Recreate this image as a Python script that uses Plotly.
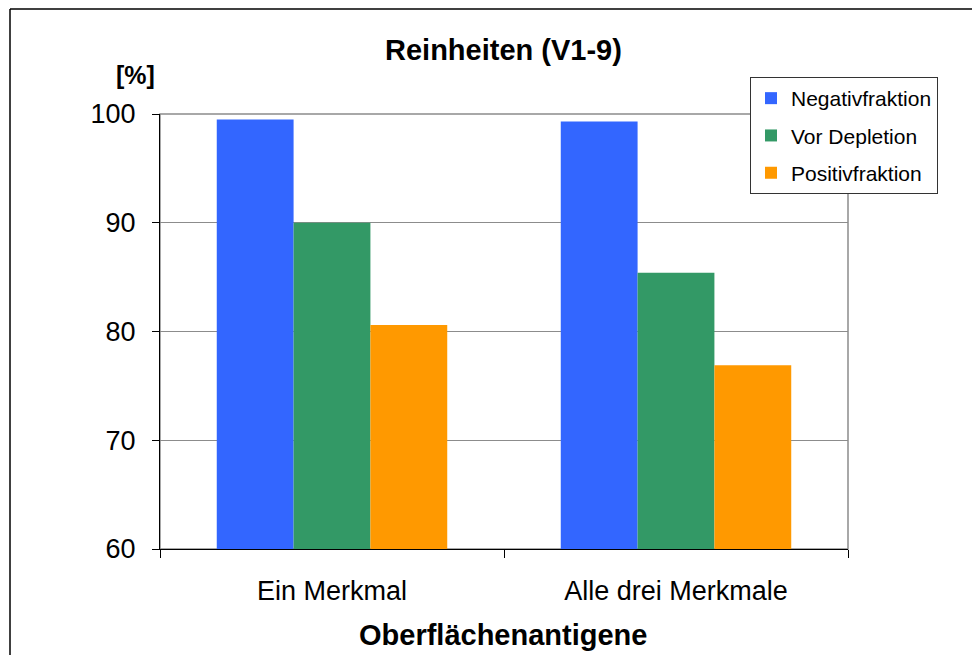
import plotly.graph_objects as go

# ---- data ----
categories = ["Ein Merkmal", "Alle drei Merkmale"]
negativfraktion = [99.5, 99.3]
vor_depletion = [90.0, 85.4]
positivfraktion = [80.6, 76.9]

series = [
    ("Negativfraktion", negativfraktion, "#3366FF"),
    ("Vor Depletion", vor_depletion, "#339966"),
    ("Positivfraktion", positivfraktion, "#FF9900"),
]

FONT = "Liberation Sans, Arial, sans-serif"
OFF = 8  # page body margin
W, H = 980 - OFF, 655 - OFF
# plot area in screenshot pixels: x 160..848, y 114..549
ML, MR, MT, MB = 160 - OFF, W - (848 - OFF), 114 - OFF, H - (549 - OFF)
PW, PH = W - ML - MR, H - MT - MB


def px_x(p):
    # screenshot pixel -> paper fraction
    return (p - OFF - ML) / PW


def px_y(p):
    return (H - MB - (p - OFF)) / PH


fig = go.Figure()
for i, (name, vals, color) in enumerate(series):
    fig.add_trace(go.Bar(
        x=categories, y=vals, name=name,
        marker=dict(color=color, line=dict(width=0)),
        legendgroup=f"g{i}",
    ))

fig.update_layout(
    width=W, height=H,
    margin=dict(l=ML, r=MR, t=MT, b=MB),
    paper_bgcolor="white", plot_bgcolor="white",
    font=dict(family=FONT, color="black"),
    barmode="group", bargap=0.33, bargroupgap=0,
    showlegend=True,
    legend=dict(
        x=px_x(750), y=px_y(77), xanchor="left", yanchor="top",
        bordercolor="#333333", borderwidth=1, bgcolor="white",
        font=dict(size=21, family=FONT),
        tracegroupgap=7, itemwidth=30,
    ),
    xaxis=dict(
        showline=True, linecolor="black", linewidth=1,
        ticks="outside", tickson="boundaries", ticklen=8, tickcolor="black",
        tickfont=dict(size=27), ticklabelstandoff=18,
        showgrid=False,
    ),
    yaxis=dict(
        range=[60, 100], dtick=10,
        showline=True, linecolor="black", linewidth=1,
        ticks="outside", ticklen=7, tickcolor="black",
        tickfont=dict(size=27), ticklabelstandoff=11,
        showgrid=True, gridcolor="#8c8c8c", gridwidth=1,
        zeroline=False,
    ),
    shapes=[
        # grey frame of the plot area
        dict(type="rect", xref="paper", yref="paper", x0=0, x1=1, y0=0, y1=1,
             line=dict(color="#8c8c8c", width=1.5), layer="below"),
        # outer chart border (left and top visible)
        dict(type="line", xref="paper", yref="paper",
             x0=px_x(10), x1=px_x(10), y0=px_y(670), y1=px_y(9),
             line=dict(color="black", width=1.5)),
        dict(type="line", xref="paper", yref="paper",
             x0=px_x(10), x1=px_x(995), y0=px_y(9), y1=px_y(9),
             line=dict(color="black", width=1.5)),
    ],
    annotations=[
        dict(text="<b>Reinheiten (V1-9)</b>", xref="paper", yref="paper",
             x=px_x(503), y=px_y(50), showarrow=False,
             xanchor="center", yanchor="middle",
             font=dict(size=29, family=FONT)),
        dict(text="<b>[%]</b>", xref="paper", yref="paper",
             x=px_x(135), y=px_y(75), showarrow=False,
             xanchor="center", yanchor="middle",
             font=dict(size=25, family=FONT)),
        dict(text="<b>Oberflächenantigene</b>", xref="paper", yref="paper",
             x=px_x(503), y=px_y(635), showarrow=False,
             xanchor="center", yanchor="middle",
             font=dict(size=29, family=FONT)),
    ],
)

fig.write_html("out.html")
